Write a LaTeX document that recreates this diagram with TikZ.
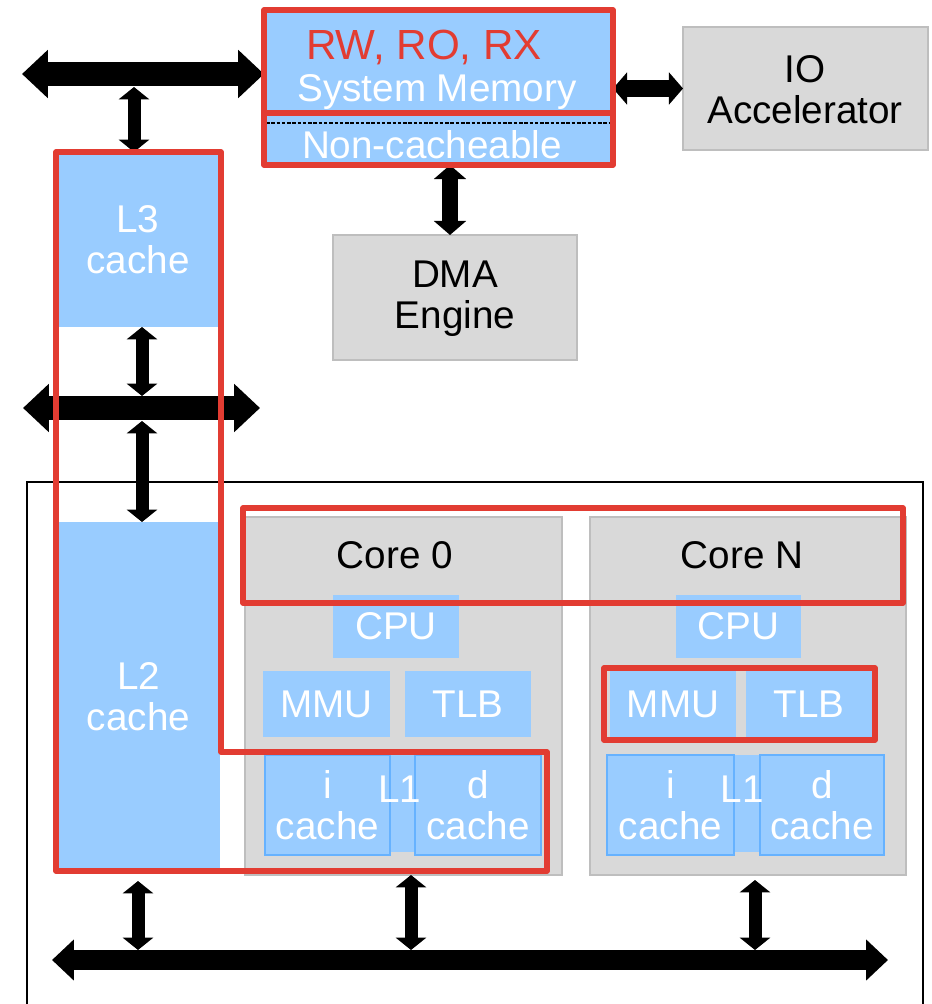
\documentclass[tikz,border=0pt]{standalone}
\usepackage{fontspec}
\setmainfont{Liberation Sans}
\usepackage{xcolor}
\usepackage{tikz}
\usetikzlibrary{arrows.meta}
\usetikzlibrary{calc}

\definecolor{memblue}{RGB}{153,204,255}
\definecolor{cacheedge}{RGB}{102,178,255}
\definecolor{boxgray}{RGB}{217,217,217}
\definecolor{boxedge}{RGB}{190,190,190}
\definecolor{hired}{RGB}{226,60,50}
\newcommand{\lbl}{\fontsize{22}{23.5}\selectfont}
\newcommand{\px}{0.02cm}

\begin{document}
\begin{tikzpicture}[x=0.02cm,y=-0.02cm,
		blk/.style={fill=memblue,text=white,inner sep=0pt,outer sep=0pt,align=center,font=\lbl},
		gbox/.style={fill=boxgray,draw=boxedge,line width=0.6pt,inner sep=0pt,outer sep=0pt,align=center,font=\lbl},
		cbox/.style={blk,draw=cacheedge,line width=1pt},
		txt/.style={inner sep=0pt,align=center,font=\lbl},
		redline/.style={draw=hired,line width=3.2pt,line join=round},
		bus/.style={line width=14.2pt,{Triangle[width=26.6pt,length=14.7pt]}-{Triangle[width=26.6pt,length=14.7pt]}},
		lowbus/.style={line width=11.3pt,{Triangle[width=22.7pt,length=12.5pt]}-{Triangle[width=22.7pt,length=12.5pt]}},
		link/.style={line width=7.4pt,{Triangle[width=17pt,length=7pt]}-{Triangle[width=17pt,length=7pt]}},
		mlink/.style={line width=9.6pt,{Triangle[width=18pt,length=8pt]}-{Triangle[width=18pt,length=8pt]}}]
		\useasboundingbox (0,0) rectangle (931,1004);
		% chip frame
		\draw[line width=0.8pt] (27,1010) |- (923,482) -- (923,1010);
		% memory and devices
		\node[blk,minimum width={349*\px},minimum height={103*\px}] (mem) at (438.5,61.5) {};
		\node[blk,minimum width={349*\px},minimum height={52*\px}] (noncache) at (438.5,139) {};
		\node[gbox,minimum width={245*\px},minimum height={123*\px}] (io) at (805.5,88.5) {};
		\node[gbox,minimum width={244*\px},minimum height={125*\px}] (dma) at (455,297.5) {};
		\node[txt,text=hired,font=\fontsize{24}{26}\selectfont] (rw) at (424,47) {RW, RO, RX};
		\node[txt,text=white] (sysmem) at (437,92) {System Memory};
		\node[txt,text=white] (nctxt) at (432,145) {Non-cacheable};
		\node[txt] (iotxt) at (805,90) {IO\\Accelerator};
		\node[txt] (dmatxt) at (455,299) {DMA\\Engine};
		\draw[dashed,line width=0.9pt,dash pattern=on 2pt off 1pt] (266,123) -- (611,123);
		% shared caches
		\node[blk,minimum width={162*\px},minimum height={175*\px}] (lthree) at (138,239.5) {L3\\cache};
		\node[blk,minimum width={163*\px},minimum height={349*\px}] (ltwo) at (138.5,696.5) {L2\\cache};
		% cores
		\node[gbox,minimum width={317*\px},minimum height={358*\px}] (coreA) at (403.5,696) {};
		\node[gbox,minimum width={316*\px},minimum height={358*\px}] (coreN) at (748,696) {};
		\node[txt] (coreAtxt) at (395,555) {Core 0};
		\node[txt] (coreNtxt) at (742,555) {Core N};
		\node[blk,minimum width={126*\px},minimum height={63*\px}] (cpuA) at (396,626.5) {CPU};
		\node[blk,minimum width={125*\px},minimum height={63*\px}] (cpuN) at (738.5,626.5) {CPU};
		\node[blk,minimum width={127*\px},minimum height={66*\px}] (mmuA) at (326.5,704) {MMU};
		\node[blk,minimum width={126*\px},minimum height={66*\px}] (tlbA) at (468,704) {TLB};
		\node[blk,minimum width={126*\px},minimum height={66*\px}] (mmuN) at (673,704) {MMU};
		\node[blk,minimum width={126*\px},minimum height={66*\px}] (tlbN) at (809,704) {TLB};
		\node[blk,minimum width={276*\px},minimum height={97*\px}] (lonebgA) at (403,803.5) {};
		\node[blk,minimum width={277*\px},minimum height={97*\px}] (lonebgN) at (745.5,803.5) {};
		\node[cbox,minimum width={125*\px},minimum height={100*\px}] (icacheA) at (327.5,805) {i\\cache};
		\node[cbox,minimum width={126*\px},minimum height={100*\px}] (dcacheA) at (478,805) {d\\cache};
		\node[cbox,minimum width={127*\px},minimum height={100*\px}] (icacheN) at (670.5,805) {i\\cache};
		\node[cbox,minimum width={124*\px},minimum height={100*\px}] (dcacheN) at (822,805) {d\\cache};
		\node[txt,text=white] (loneA) at (400,789) {L1};
		\node[txt,text=white] (loneN) at (742,789) {L1};
		% buses
		\coordinate (tbusL) at (22,74);
		\coordinate (tbus) at (134,87);
		\coordinate (mbusL) at (23,408);
		\coordinate (mbusR) at (260,408);
		\coordinate (mbtop) at (142,396);
		\coordinate (mbbot) at (142,421);
		\coordinate (bbusL) at (52,960);
		\coordinate (bbusR) at (888,960);
		\coordinate (bbA) at (138,950);
		\coordinate (bbB) at (411,950);
		\coordinate (bbC) at (755,950);
		\coordinate (dmx) at (450,0);
		\draw[bus] (tbusL) -- (tbusL -| mem.west);
		\draw[link] (tbus) -- (tbus |- lthree.north);
		\draw[bus] (mbusL) -- (mbusR);
		\draw[link] (mbtop |- lthree.south) -- (mbtop);
		\draw[link] (mbbot) -- (mbbot |- ltwo.north);
		\draw[mlink] (io.west -| mem.east) -- (io.west);
		\draw[mlink] (noncache.south -| dmx) -- (dma.north -| dmx);
		\draw[lowbus] (bbusL) -- (bbusR);
		\draw[link,shorten <=10*\px] (bbA |- ltwo.south) -- (bbA);
		\draw[link] (bbB |- coreA.south) -- (bbB);
		\draw[link,shorten <=5*\px] (bbC |- coreN.south) -- (bbC);
		% red outlines
		\draw[redline] (mem.north west) rectangle (noncache.south east);
		\draw[redline] (mem.south west) -- (mem.south east);
		\draw[redline] (243,508) rectangle (903,603);
		\draw[redline] (604,668) rectangle (875,740);
		\draw[redline] (56,152) -- (221,152) -- (221,752) -- (547,752) -- (547,871) -- (56,871) -- cycle;
	\end{tikzpicture}
\end{document}
